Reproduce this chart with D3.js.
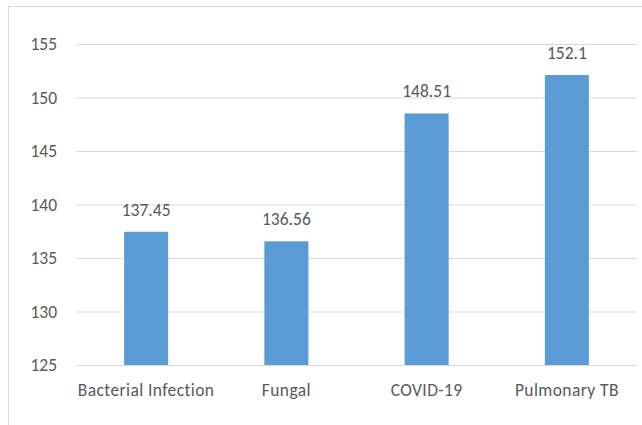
<!DOCTYPE html>
<html lang="en">
<head>
  <meta charset="UTF-8">
  <title>Chart</title>
  <style>
    body { margin: 0; background: #fff; }
    svg text {
      font-family: Carlito, Calibri, Lato, 'Open Sans', sans-serif;
      font-size: 17.5px;
      fill: #595959;
    }
    .cat { letter-spacing: 0.4px; }
    .grid line { stroke: #d9d9d9; stroke-width: 1; }
    .grid path { display: none; }
  </style>
</head>
<body>
  <svg width="642" height="425"></svg>
  <script src="https://cdn.jsdelivr.net/npm/d3@7"></script>
  <script>
    var categories = ['Bacterial Infection', 'Fungal', 'COVID-19', 'Pulmonary TB']
    var values = [137.45, 136.56, 148.51, 152.1]
    var yTicks = [125, 130, 135, 140, 145, 150, 155]

    var svg = d3.select('svg')
    var plotLeft = 76, plotRight = 637, plotTop = 44, plotBottom = 365

    // outer chart border (right and bottom edges fall off the picture)
    svg.append('rect')
      .attr('x', 8.5).attr('y', 6.5)
      .attr('width', 700).attr('height', 500)
      .attr('fill', 'none')
      .attr('stroke', '#d9d9d9')

    var x = d3.scaleBand()
      .domain(categories)
      .range([plotLeft, plotRight])
      .paddingInner(0.686)
      .paddingOuter(0.343)

    var y = d3.scaleLinear()
      .domain([125, 155])
      .range([plotBottom, plotTop])

    // gridlines
    svg.append('g')
      .attr('class', 'grid')
      .attr('transform', 'translate(' + plotLeft + ',0)')
      .call(d3.axisRight(y).tickValues(yTicks).tickSize(plotRight - plotLeft).tickFormat(''))

    // y tick labels
    svg.append('g')
      .selectAll('text')
      .data(yTicks)
      .enter()
      .append('text')
      .attr('x', 57)
      .attr('y', function(d) { return y(d) })
      .attr('dy', '0.35em')
      .attr('text-anchor', 'end')
      .text(function(d) { return d })

    // bars
    svg.append('g')
      .selectAll('rect')
      .data(values)
      .enter()
      .append('rect')
      .attr('x', function(d, i) { return x(categories[i]) })
      .attr('y', function(d) { return y(d) })
      .attr('width', x.bandwidth())
      .attr('height', function(d) { return y(125) - y(d) })
      .attr('fill', '#5b9bd5')

    // data labels
    svg.append('g')
      .selectAll('text')
      .data(values)
      .enter()
      .append('text')
      .attr('x', function(d, i) { return x(categories[i]) + x.bandwidth() / 2 })
      .attr('y', function(d) { return y(d) - 16 })
      .attr('text-anchor', 'middle')
      .text(function(d) { return d })

    // category labels
    svg.append('g')
      .selectAll('text')
      .data(categories)
      .enter()
      .append('text')
      .attr('class', 'cat')
      .attr('x', function(d) { return x(d) + x.bandwidth() / 2 })
      .attr('y', 396)
      .attr('text-anchor', 'middle')
      .text(function(d) { return d })
  </script>
</body>
</html>
